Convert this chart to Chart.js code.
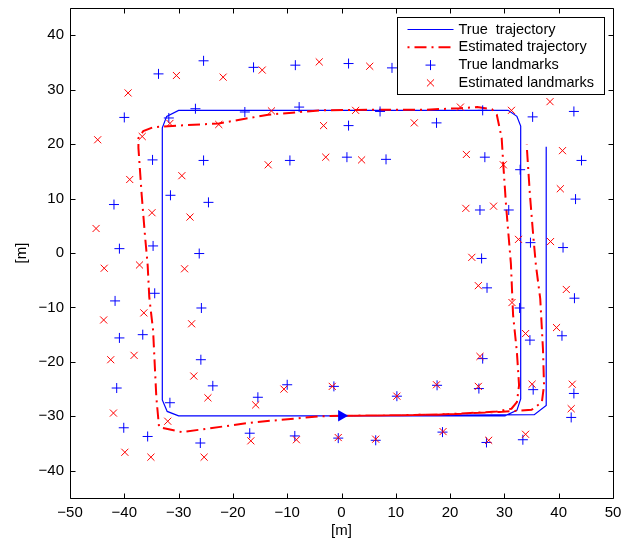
<!DOCTYPE html>
<html>
<head>
<meta charset="utf-8">
<script src="https://cdn.jsdelivr.net/npm/chart.js@4.4.1/dist/chart.umd.min.js"></script>
<style>
  html, body { margin: 0; padding: 0; background: #fff; }
  canvas { display: block; }
</style>
</head>
<body>
<canvas id="slamChart" width="632" height="538"></canvas>
<script>
// values, in metres
const trueTrajectory = [
  [0, -29.9], [30.1, -29.9], [32.3, -28.9], [33.0, -26.8], [33.0, 23.3], [32.3, 25.1],
  [30.7, 26.2], [-30.0, 26.2], [-32.2, 25.1], [-33.0, 23.0], [-33.0, -27.0], [-32.1, -29.1],
  [-30.0, -29.9], [0, -29.9], [35.5, -29.7], [37.7, -28.0], [37.7, 19.5]
];

const estTrajectory = [
  [0, -29.9], [10, -29.8], [17.7, -29.7], [23.7, -29.4], [28.6, -29.1], [31.3, -28.6],
  [32.3, -27.4], [32.7, -24.3], [32.3, -18.2], [31.6, -11.4], [31.2, -2.0], [30.3, 8.8],
  [29.8, 16.2], [29.5, 21.1], [28.6, 25.4], [27.7, 26.4], [25, 26.8], [22, 26.6],
  [15, 26.3], [5, 26.3], [-4, 26.2], [-13.5, 25.4], [-22.6, 23.8], [-31.9, 23.3],
  [-34.7, 23.1], [-36.5, 22.4], [-37.4, 21.1], [-37.4, 19.3], [-36.8, 10.7], [-36.2, 3.3],
  [-35.7, -2.2], [-35.4, -8.1], [-34.7, -14.2], [-34.1, -26.5], [-33.6, -32.0], [-29.4, -32.9],
  [-16.2, -31.1], [-4.0, -30.0], [0, -29.9], [10, -29.8], [20, -29.6], [29, -29.2],
  [35.0, -28.8], [36.9, -27.4], [37.3, -24.3], [37.1, -17.6], [36.6, -8.4], [35.8, -2.2],
  [35.3, 3.3], [34.7, 10.7], [34.1, 19.9]
];

const trueLandmarks = [
  [-33.7, 32.9], [-25.4, 35.3], [-16.2, 34.1], [-8.5, 34.5], [-40.0, 24.9], [-26.9, 26.5],
  [-31.8, 24.8], [-17.8, 25.9], [-7.8, 26.8], [-34.8, 17.1], [-25.4, 17.0], [-9.5, 17.0],
  [-41.9, 8.9], [-31.5, 10.6], [-24.5, 9.3], [-40.9, 0.8], [-34.7, 1.3], [-26.2, -0.1],
  [-34.4, -7.4], [-41.7, -8.8], [-25.8, -10.1], [-40.9, -15.6], [-36.6, -15.0], [-25.9, -19.6],
  [-41.4, -24.8], [-23.7, -24.4], [-31.6, -27.5], [-15.4, -26.5], [-10.0, -24.2], [-40.1, -32.1],
  [-35.7, -33.7], [-26.0, -34.9], [-16.9, -33.1], [-8.6, -33.6],
  [1.3, 34.8], [9.3, 34.0], [7.1, 26.0], [26.0, 26.2], [1.3, 23.4], [17.5, 23.9],
  [35.2, 25.0], [42.8, 26.0], [1.0, 17.6], [8.2, 17.2], [26.4, 17.6], [32.9, 15.3],
  [44.2, 17.0], [25.5, 7.9], [30.8, 7.9], [43.1, 9.9], [34.8, 1.9], [40.8, 1.0], [25.8, -1.0],
  [26.8, -6.4], [42.9, -8.3], [32.8, -10.1], [34.7, -16.0], [40.6, -15.2], [26.0, -19.4],
  [-1.4, -24.5], [17.6, -24.3], [25.3, -24.9], [35.3, -25.1], [42.8, -25.8], [10.2, -26.3],
  [42.3, -30.2], [18.6, -32.9], [-0.6, -34.0], [6.3, -34.4], [26.7, -34.8], [33.4, -34.3]
];

const estLandmarks = [
  [-30.4, 32.6], [-21.8, 32.3], [-14.6, 33.6], [-4.1, 35.1], [-39.3, 29.4], [-44.9, 20.8],
  [-36.7, 21.4], [-31.6, 23.8], [-22.6, 23.6], [-12.9, 26.1], [-29.4, 14.2], [-13.5, 16.2],
  [-39.0, 13.5], [-34.9, 7.4], [-27.9, 6.6], [-45.2, 4.5], [-43.7, -2.8], [-37.2, -2.2],
  [-28.9, -2.9],
  [-36.4, -11.0], [-43.8, -12.3], [-27.6, -13.0], [-42.5, -19.6], [-38.2, -18.8], [-27.2, -22.6],
  [-24.6, -26.6], [-15.8, -27.9], [-10.6, -25.0], [-42.0, -29.4], [-32.0, -30.9], [-39.9, -36.6],
  [-35.1, -37.5], [-25.3, -37.5], [-16.7, -34.5], [-8.3, -34.3],
  [5.2, 34.3], [2.6, 26.2], [-3.3, 23.4], [13.4, 23.9], [21.9, 26.8], [31.3, 26.2],
  [38.4, 27.8], [-2.9, 17.6], [3.7, 17.1], [23.0, 18.1], [29.8, 16.2], [40.7, 18.8],
  [22.9, 8.2], [28.0, 8.6], [40.3, 11.8], [32.6, 2.5], [38.5, 2.1], [24.0, -0.8],
  [25.2, -6.0], [41.4, -6.7], [31.4, -9.1], [33.9, -14.8], [39.6, -13.7], [25.5, -19.0],
  [-1.7, -24.5], [17.5, -24.2], [25.2, -24.5], [35.1, -24.1], [42.5, -24.1], [10.2, -26.3],
  [42.3, -28.6], [18.7, -32.8], [-0.6, -33.9], [6.3, -34.2], [27.1, -34.4], [33.9, -33.3]
];

const startPoint = [[0, -29.9]];

const seriesNames = ["True  trajectory", "Estimated trajectory", "True landmarks", "Estimated landmarks"];
const xTicks = [-50, -40, -30, -20, -10, 0, 10, 20, 30, 40, 50];
const yTicks = [-40, -30, -20, -10, 0, 10, 20, 30, 40];

const BLUE = "#0000ff";
const RED = "#ff0000";
const FONT = "'Liberation Sans', Arial, Helvetica, sans-serif";
const DASH_DOT = [12, 5, 2, 5];

Chart.defaults.font.family = FONT;
Chart.defaults.color = "#000";

function toXY(pairs) {
  return pairs.map(p => ({ x: p[0], y: p[1] }));
}

function tickText(v) {
  return v < 0 ? "\u2212" + Math.abs(v) : String(v);
}

// matlab style box with inward ticks on all four sides, plus the legend
const boxAndLegend = {
  id: "boxAndLegend",
  afterDraw(chart) {
    const { ctx, chartArea: a, scales: { x, y } } = chart;
    const L = Math.round(a.left) + 0.5, R = Math.round(a.right) + 0.5;
    const T = Math.round(a.top) + 0.5, B = Math.round(a.bottom) + 0.5;
    const tl = 5;

    ctx.save();
    ctx.strokeStyle = "#000";
    ctx.lineWidth = 1;
    ctx.setLineDash([]);
    ctx.beginPath();
    ctx.rect(L, T, R - L, B - T);
    xTicks.forEach(v => {
      const px = Math.round(x.getPixelForValue(v)) + 0.5;
      ctx.moveTo(px, B); ctx.lineTo(px, B - tl);
      ctx.moveTo(px, T); ctx.lineTo(px, T + tl);
    });
    yTicks.forEach(v => {
      const py = Math.round(y.getPixelForValue(v)) + 0.5;
      ctx.moveTo(L, py); ctx.lineTo(L + tl, py);
      ctx.moveTo(R, py); ctx.lineTo(R - tl, py);
    });
    ctx.stroke();

    // legend box
    const w = 207, h = 77;
    const lx = Math.round(a.right) - 9 - w + 0.5;
    const ly = Math.round(a.top) + 9 + 0.5;
    ctx.fillStyle = "#fff";
    ctx.fillRect(lx, ly, w, h);
    ctx.strokeRect(lx, ly, w, h);

    const rowY = i => ly + 12 + i * 17.8;
    const s0 = lx + 10, s1 = lx + 56, mid = lx + 33;

    ctx.strokeStyle = BLUE;
    ctx.lineWidth = 1.2;
    ctx.beginPath();
    ctx.moveTo(s0, rowY(0)); ctx.lineTo(s1, rowY(0));
    ctx.stroke();

    ctx.strokeStyle = RED;
    ctx.lineWidth = 2;
    ctx.setLineDash(DASH_DOT);
    ctx.lineDashOffset = 17;
    ctx.beginPath();
    ctx.moveTo(s0, rowY(1)); ctx.lineTo(s1, rowY(1));
    ctx.stroke();
    ctx.setLineDash([]);

    ctx.strokeStyle = BLUE;
    ctx.lineWidth = 1;
    Chart.helpers.drawPoint(ctx, { pointStyle: "cross", radius: 5, rotation: 0, borderWidth: 1 }, mid, rowY(2));
    ctx.strokeStyle = RED;
    Chart.helpers.drawPoint(ctx, { pointStyle: "crossRot", radius: 5, rotation: 0, borderWidth: 1 }, mid, rowY(3));

    ctx.fillStyle = "#000";
    ctx.font = "14.5px " + FONT;
    ctx.textAlign = "left";
    ctx.textBaseline = "middle";
    seriesNames.forEach((name, i) => ctx.fillText(name, lx + 61, rowY(i)));
    ctx.restore();
  }
};

new Chart(document.getElementById("slamChart"), {
  type: "scatter",
  data: {
    datasets: [
      {
        label: seriesNames[0],
        data: toXY(trueTrajectory),
        showLine: true,
        borderColor: BLUE,
        borderWidth: 1.2,
        pointRadius: 0,
        tension: 0,
        order: 5
      },
      {
        label: seriesNames[1],
        data: toXY(estTrajectory),
        showLine: true,
        borderColor: RED,
        borderWidth: 2,
        borderDash: DASH_DOT,
        pointRadius: 0,
        tension: 0,
        order: 4
      },
      {
        label: seriesNames[2],
        data: toXY(trueLandmarks),
        pointStyle: "cross",
        pointRadius: 5,
        pointBorderWidth: 1,
        borderColor: BLUE,
        backgroundColor: BLUE,
        order: 3
      },
      {
        label: seriesNames[3],
        data: toXY(estLandmarks),
        pointStyle: "crossRot",
        pointRadius: 5,
        pointBorderWidth: 1,
        borderColor: RED,
        backgroundColor: RED,
        order: 2
      },
      {
        label: "start",
        data: toXY(startPoint),
        pointStyle: "triangle",
        rotation: 90,
        pointRadius: 6.7,
        pointBorderWidth: 0,
        borderColor: BLUE,
        backgroundColor: BLUE,
        order: 1
      }
    ]
  },
  options: {
    responsive: false,
    animation: false,
    events: [],
    layout: { padding: { left: 0, right: 19, top: 8, bottom: 0 } },
    plugins: {
      legend: { display: false },
      tooltip: { enabled: false }
    },
    scales: {
      x: {
        type: "linear",
        min: -50,
        max: 50,
        afterBuildTicks: s => { s.ticks = xTicks.map(v => ({ value: v })); },
        afterFit: s => { s.height = 40; s.paddingLeft = 0; s.paddingRight = 0; },
        grid: { display: false, drawTicks: false },
        border: { display: false },
        ticks: {
          padding: 7,
          color: "#000",
          maxRotation: 0,
          autoSkip: false,
          font: { size: 15, lineHeight: 1 },
          callback: v => tickText(v)
        },
        title: { display: true, text: "[m]", color: "#000", font: { size: 15, lineHeight: 1 }, padding: 0 }
      },
      y: {
        type: "linear",
        min: -45,
        max: 45,
        afterBuildTicks: s => { s.ticks = yTicks.map(v => ({ value: v })); },
        afterFit: s => { s.width = 70; s.paddingTop = 0; s.paddingBottom = 0; },
        grid: { display: false, drawTicks: false },
        border: { display: false },
        ticks: {
          padding: 6,
          color: "#000",
          font: { size: 15, lineHeight: 1 },
          callback: v => tickText(v)
        },
        title: { display: true, text: "[m]", color: "#000", font: { size: 15, lineHeight: 1 }, padding: { top: 14, bottom: 0 } }
      }
    }
  },
  plugins: [boxAndLegend]
});
</script>
</body>
</html>
